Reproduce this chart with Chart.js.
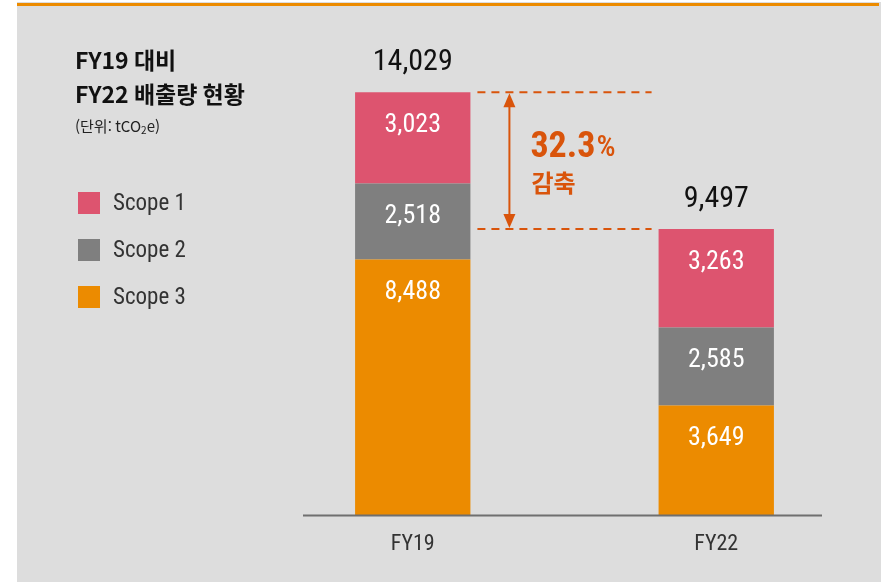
<!DOCTYPE html>
<html lang="ko">
<head>
<meta charset="utf-8">
<script src="https://cdn.jsdelivr.net/npm/chart.js@4.4.1/dist/chart.umd.min.js"></script>
<style>
    html, body { margin: 0; padding: 0; background: #ffffff; }
    #wrap { width: 881px; height: 582px; }
</style>
</head>
<body>
<div id="wrap"><canvas id="emissions" width="881" height="582"></canvas></div>
<script>
// Data
const categories = ['FY19', 'FY22'];
const scope1 = [3023, 3263];
const scope2 = [2518, 2585];
const scope3 = [8488, 3649];
const seriesLabels = ['Scope 1', 'Scope 2', 'Scope 3'];
const seriesColors = ['#dd546f', '#7f7f7f', '#ec8b00'];

const NUM_FONT = '"Roboto Condensed", "Liberation Sans Narrow", Roboto, sans-serif';
const KR_FONT = '"Noto Sans CJK KR", "Noto Sans", sans-serif';
const ACCENT = '#d9540b';

const fmt = v => v.toLocaleString('en-US');

// Background panel + orange top rule
const backgroundPlugin = {
    id: 'panel',
    beforeDraw(chart) {
        const ctx = chart.ctx;
        ctx.save();
        ctx.fillStyle = '#dddddd';
        ctx.fillRect(17, 2, chart.width - 17, chart.height - 2);
        ctx.fillStyle = '#ec8b00';
        ctx.fillRect(17, 3, chart.width - 19, 3);
        ctx.restore();
    }
};

// Title, unit, legend, labels, annotation
const overlayPlugin = {
    id: 'overlay',
    afterDatasetsDraw(chart) {
        const ctx = chart.ctx;
        const area = chart.chartArea;
        const yScale = chart.scales.y;
        ctx.save();

        // baseline
        ctx.strokeStyle = '#6f6f6f';
        ctx.lineWidth = 2;
        ctx.beginPath();
        ctx.moveTo(area.left + 42, yScale.getPixelForValue(0));
        ctx.lineTo(area.right - 46, yScale.getPixelForValue(0));
        ctx.stroke();

        // title
        ctx.fillStyle = '#111111';
        ctx.textBaseline = 'middle';
        ctx.textAlign = 'left';
        ctx.font = 'bold 23px ' + KR_FONT;
        ctx.fillText('FY19 대비', 75, 60);
        ctx.fillText('FY22 배출량 현황', 75, 94);

        // unit line with subscript
        ctx.fillStyle = '#222222';
        ctx.font = '15px ' + KR_FONT;
        let x = 75;
        const unitY = 126;
        const head = '(단위: tCO';
        ctx.fillText(head, x, unitY);
        x += ctx.measureText(head).width;
        ctx.font = '10px ' + KR_FONT;
        ctx.fillText('2', x, unitY + 4);
        x += ctx.measureText('2').width;
        ctx.font = '15px ' + KR_FONT;
        ctx.fillText('e)', x, unitY);

        // legend
        seriesLabels.forEach((label, i) => {
            const top = 192 + i * 47;
            ctx.fillStyle = seriesColors[i];
            ctx.fillRect(78, top, 22, 22);
            ctx.fillStyle = '#333333';
            ctx.font = '23px ' + NUM_FONT;
            ctx.fillText(label, 113, top + 12);
        });

        // segment value labels + totals
        const totals = categories.map((_, i) => scope1[i] + scope2[i] + scope3[i]);
        chart.data.datasets.forEach((ds, di) => {
            const meta = chart.getDatasetMeta(di);
            meta.data.forEach((bar, i) => {
                ctx.fillStyle = '#ffffff';
                ctx.font = '26px ' + NUM_FONT;
                ctx.textAlign = 'center';
                ctx.fillText(fmt(ds.data[i]), bar.x, bar.y + 33);
            });
        });
        const topMeta = chart.getDatasetMeta(chart.data.datasets.length - 1);
        topMeta.data.forEach((bar, i) => {
            ctx.fillStyle = '#111111';
            ctx.font = '30px ' + NUM_FONT;
            ctx.textAlign = 'center';
            ctx.fillText(fmt(totals[i]), bar.x, bar.y - 30);
        });

        // reduction annotation
        const b0 = topMeta.data[0];
        const b1 = topMeta.data[1];
        const y0 = yScale.getPixelForValue(totals[0]);
        const y1 = yScale.getPixelForValue(totals[1]);
        const xs = b0.x + b0.width / 2 + 7;
        const xe = b1.x - b1.width / 2 - 7;
        ctx.strokeStyle = ACCENT;
        ctx.lineWidth = 2;
        ctx.setLineDash([8, 6]);
        [y0, y1].forEach(y => {
            ctx.beginPath();
            ctx.moveTo(xs, y);
            ctx.lineTo(xe, y);
            ctx.stroke();
        });
        ctx.setLineDash([]);

        const ax = xs + 32;
        ctx.beginPath();
        ctx.moveTo(ax, y0 + 10);
        ctx.lineTo(ax, y1 - 10);
        ctx.stroke();
        ctx.fillStyle = ACCENT;
        ctx.beginPath();
        ctx.moveTo(ax, y0 + 1);
        ctx.lineTo(ax - 6, y0 + 15);
        ctx.lineTo(ax + 6, y0 + 15);
        ctx.closePath();
        ctx.fill();
        ctx.beginPath();
        ctx.moveTo(ax, y1 - 1);
        ctx.lineTo(ax - 6, y1 - 15);
        ctx.lineTo(ax + 6, y1 - 15);
        ctx.closePath();
        ctx.fill();

        const pct = ((totals[0] - totals[1]) / totals[0] * 100).toFixed(1);
        ctx.textAlign = 'left';
        ctx.textBaseline = 'alphabetic';
        ctx.font = 'bold 36px ' + NUM_FONT;
        ctx.fillText(pct, ax + 21, 157);
        const pw = ctx.measureText(pct).width;
        ctx.font = '500 30px ' + NUM_FONT;
        ctx.fillText('%', ax + 21 + pw + 1, 156);
        ctx.font = 'bold 24px ' + KR_FONT;
        ctx.textBaseline = 'middle';
        ctx.fillText('감축', ax + 22, 183);

        ctx.restore();
    }
};

const ctx = document.getElementById('emissions').getContext('2d');
new Chart(ctx, {
    type: 'bar',
    data: {
        labels: categories,
        datasets: [
            { label: seriesLabels[2], data: scope3, backgroundColor: seriesColors[2] },
            { label: seriesLabels[1], data: scope2, backgroundColor: seriesColors[1] },
            { label: seriesLabels[0], data: scope1, backgroundColor: seriesColors[0] }
        ]
    },
    options: {
        responsive: false,
        animation: false,
        layout: { padding: { top: 63, left: 261, right: 13, bottom: 16 } },
        datasets: { bar: { categoryPercentage: 1, barPercentage: 0.38, borderWidth: 0 } },
        plugins: {
            legend: { display: false },
            tooltip: { enabled: false }
        },
        scales: {
            x: {
                stacked: true,
                grid: { display: false },
                border: { display: false },
                ticks: {
                    color: '#333333',
                    padding: 8,
                    font: { family: NUM_FONT, size: 22 }
                }
            },
            y: {
                stacked: true,
                display: false,
                min: 0,
                max: 15000
            }
        }
    },
    plugins: [backgroundPlugin, overlayPlugin]
});
</script>
</body>
</html>
